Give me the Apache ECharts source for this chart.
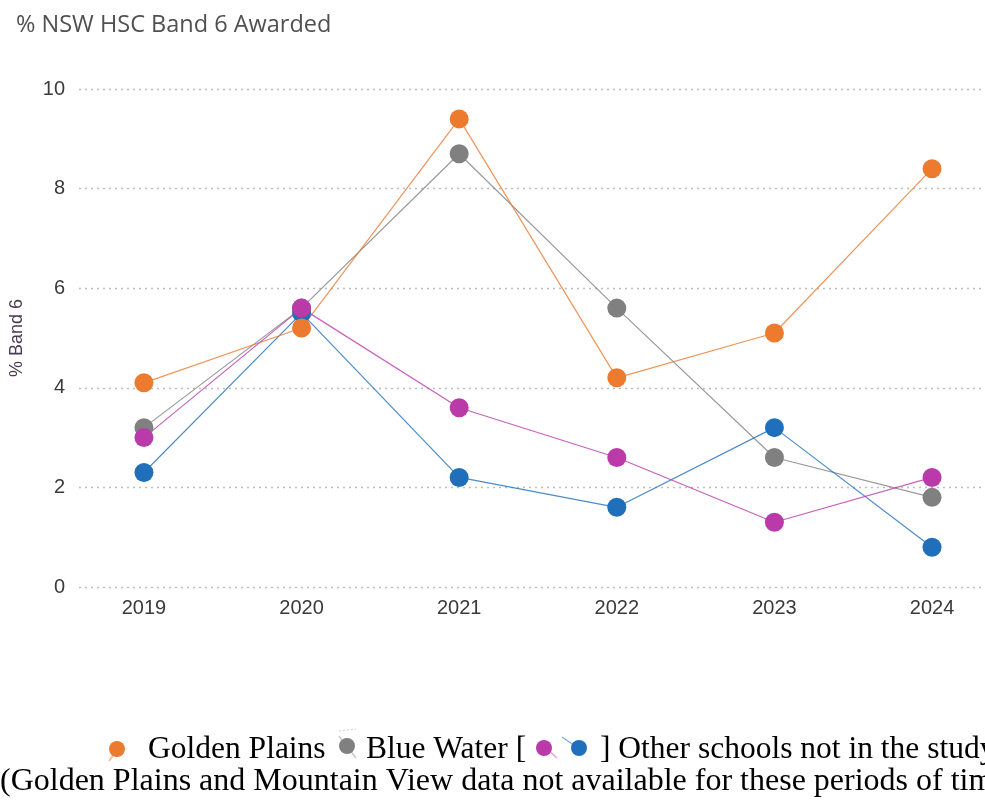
<!DOCTYPE html>
<html>
<head>
<meta charset="utf-8">
<script src="https://cdn.jsdelivr.net/npm/echarts@6/dist/echarts.min.js"></script>
<style>
html,body{margin:0;padding:0;background:#fff;}
#chart{width:985px;height:800px;}
</style>
</head>
<body>
<div id="chart"></div>
<script>
const years = [2019, 2020, 2021, 2022, 2023, 2024];
const goldenPlains = [4.1, 5.2, 9.4, 4.2, 5.1, 8.4];
const blueWater = [3.2, 5.6, 8.7, 5.6, 2.6, 1.8];
const otherSchoolA = [3.0, 5.6, 3.6, 2.6, 1.3, 2.2];
const otherSchoolB = [2.3, 5.5, 2.2, 1.6, 3.2, 0.8];
const yTicks = [0, 2, 4, 6, 8, 10];

const colors = { orange: '#EC7A2F', grey: '#808080', magenta: '#BA3AAA', blue: '#1F6FBA' };

function pairs(vals) { return years.map((y, i) => [y, vals[i]]); }
function mkSeries(name, vals, color) {
  return {
    name: name, type: 'line', data: pairs(vals),
    symbol: 'circle', symbolSize: 19,
    lineStyle: { color: color, width: 1.2, opacity: 0.8 },
    itemStyle: { color: color },
    emphasis: { disabled: true }
  };
}
const serif = { fontFamily: 'Liberation Serif', fontSize: 31.5, fill: '#000', verticalAlign: 'middle' };

const chart = echarts.init(document.getElementById('chart'));
chart.setOption({
  animation: false,
  title: {
    text: '% NSW HSC Band 6 Awarded', left: 11, top: 8,
    textStyle: { fontFamily: 'Open Sans', fontSize: 23.5, fontWeight: 'normal', color: '#505050' }
  },
  grid: { left: 78, right: 0, top: 89, height: 498 },
  xAxis: {
    type: 'value', min: 2018.588, max: 2024.336,
    axisLine: { show: false }, axisTick: { show: false }, splitLine: { show: false },
    axisLabel: {
      customValues: years, formatter: v => String(v), margin: 11,
      fontFamily: 'Liberation Sans', fontSize: 20, color: '#3A3A3A'
    }
  },
  yAxis: {
    type: 'value', min: 0, max: 10, interval: 2,
    name: '% Band 6', nameLocation: 'middle', nameGap: 53, nameRotate: 90,
    nameTextStyle: { fontFamily: 'Liberation Sans', fontSize: 18, color: '#4B3A4F' },
    axisLine: { show: false }, axisTick: { show: false },
    axisLabel: { fontFamily: 'Liberation Sans', fontSize: 20, color: '#3A3A3A', margin: 14,
      formatter: v => (yTicks.indexOf(v) >= 0 ? String(v) : '') },
    splitLine: { lineStyle: { type: [2, 4], color: '#BDBDBD', width: 1.3 } }
  },
  series: [
    mkSeries('Blue Water', blueWater, colors.grey),
    mkSeries('Other B', otherSchoolB, colors.blue),
    mkSeries('Golden Plains', goldenPlains, colors.orange),
    mkSeries('Other A', otherSchoolA, colors.magenta)
  ],
  graphic: [
    { type: 'line', shape: { x1: 117, y1: 750, x2: 109, y2: 761 }, style: { stroke: '#F2B48A', lineWidth: 1.5 } },
    { type: 'circle', shape: { cx: 117, cy: 749, r: 8 }, style: { fill: colors.orange } },
    { type: 'line', shape: { x1: 339, y1: 731, x2: 356, y2: 729 }, style: { stroke: '#CCCCCC', lineWidth: 1, lineDash: [2, 2] } },
    { type: 'line', shape: { x1: 339, y1: 736, x2: 356, y2: 758 }, style: { stroke: '#C8C8C8', lineWidth: 1.5 } },
    { type: 'circle', shape: { cx: 347, cy: 746, r: 8 }, style: { fill: colors.grey } },
    { type: 'line', shape: { x1: 546, y1: 748, x2: 557, y2: 758 }, style: { stroke: '#E3A6DC', lineWidth: 1.5 } },
    { type: 'circle', shape: { cx: 544, cy: 748, r: 8 }, style: { fill: colors.magenta } },
    { type: 'line', shape: { x1: 562, y1: 737, x2: 578, y2: 748 }, style: { stroke: '#7FAEDC', lineWidth: 1.5 } },
    { type: 'circle', shape: { cx: 579, cy: 748, r: 8 }, style: { fill: colors.blue } },
    { type: 'text', x: 148, y: 750, style: Object.assign({ text: 'Golden Plains' }, serif) },
    { type: 'text', x: 366, y: 750, style: Object.assign({ text: 'Blue Water [' }, serif) },
    { type: 'text', x: 600, y: 750, style: Object.assign({ text: '] Other schools not in the study' }, serif) },
    { type: 'text', x: 0, y: 782, style: Object.assign({ text: '(Golden Plains and Mountain View data not available for these periods of time' }, serif, { fontSize: 32 }) }
  ]
});
</script>
</body>
</html>
